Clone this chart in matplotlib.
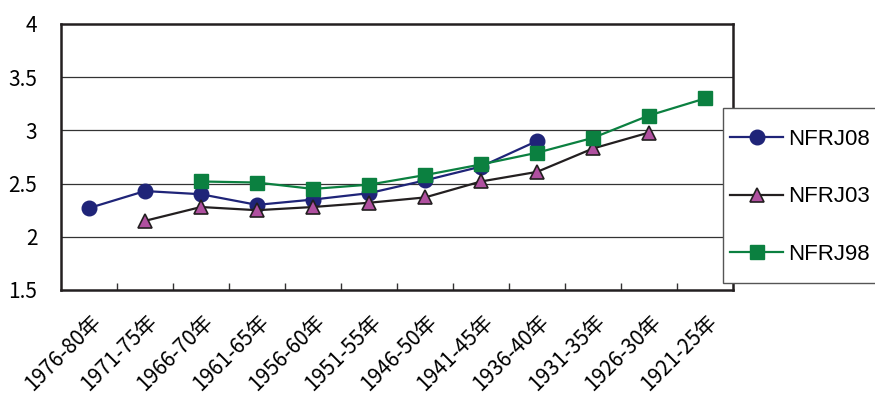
import matplotlib
matplotlib.use("Agg")
import matplotlib.pyplot as plt
import matplotlib.transforms as mtransforms
from matplotlib.patches import Rectangle
import numpy as np

plt.rcParams['font.family'] = ['Noto Sans CJK JP', 'DejaVu Sans']

# birth cohorts, newest first
cohorts = ["1976-80年", "1971-75年", "1966-70年", "1961-65年", "1956-60年",
           "1951-55年", "1946-50年", "1941-45年", "1936-40年", "1931-35年",
           "1926-30年", "1921-25年"]

# mean values per cohort for each survey wave (None = not surveyed)
nfrj08 = [2.27, 2.43, 2.40, 2.30, 2.35, 2.41, 2.53, 2.66, 2.90, None, None, None]
nfrj03 = [None, 2.15, 2.28, 2.25, 2.28, 2.32, 2.37, 2.52, 2.61, 2.83, 2.98, None]
nfrj98 = [None, None, 2.52, 2.51, 2.45, 2.49, 2.58, 2.68, 2.79, 2.93, 3.14, 3.30]


def to_arr(vals):
    return np.array([np.nan if v is None else v for v in vals], dtype=float)


fig = plt.figure(figsize=(8.75, 4.01), dpi=100)
ax = fig.add_axes([61 / 875, 1 - 290 / 401, 672 / 875, 266 / 401])

x = np.arange(len(cohorts))

ax.plot(x, to_arr(nfrj08), color="#1f2478", lw=1.6, marker="o", ms=10.5,
        mfc="#1f2478", mec="#1f2478", label="NFRJ08", zorder=3)
ax.plot(x, to_arr(nfrj03), color="#231f20", lw=1.6, marker="^", ms=10,
        mfc="#b050a0", mec="#231f20", mew=1.2, label="NFRJ03", zorder=4)
ax.plot(x, to_arr(nfrj98), color="#0b8040", lw=1.6, marker="s", ms=10,
        mfc="#0b8040", mec="#0b8040", label="NFRJ98", zorder=5)

ax.set_xlim(-0.5, len(cohorts) - 0.5)
ax.set_ylim(1.5, 4)
ax.set_yticks([1.5, 2, 2.5, 3, 3.5, 4])
ax.set_yticklabels(["1.5", "2", "2.5", "3", "3.5", "4"], fontsize=15)
ax.tick_params(axis="y", length=0, pad=17)
for yv in [2, 2.5, 3, 3.5]:
    ax.axhline(yv, color="#333333", lw=0.9, zorder=1)

# category boundary ticks pointing inward
ax.set_xticks(np.arange(0.5, len(cohorts) - 1, 1.0), minor=True)
ax.tick_params(axis="x", which="minor", direction="in", length=5, width=1,
               color="#333333")
ax.set_xticks(x)
ax.tick_params(axis="x", which="major", length=0, pad=15)
ax.set_xticklabels(cohorts, fontsize=15, rotation=45, ha="right",
                   rotation_mode="anchor")
offset = mtransforms.ScaledTranslation(1 / 100, 0, fig.dpi_scale_trans)
for lab in ax.get_xticklabels():
    lab.set_transform(lab.get_transform() + offset)

for side in ["left", "bottom", "top", "right"]:
    ax.spines[side].set_linewidth(1.8)
    ax.spines[side].set_color("#231f20")

# legend frame runs past the right edge of the figure
box = Rectangle((723 / 875, 1 - 283 / 401), 160 / 875, 175 / 401,
                transform=fig.transFigure, facecolor="white",
                edgecolor="#555555", lw=1.0, zorder=4)
fig.add_artist(box)

leg = fig.legend(loc="upper left", bbox_to_anchor=(730 / 875, 1 - 129 / 401),
                 prop={"family": ["Liberation Sans", "DejaVu Sans"], "size": 16},
                 frameon=False, handlelength=2.4, handletextpad=0.22,
                 labelspacing=1.64, borderpad=0, borderaxespad=0)
leg.set_zorder(5)

fig.savefig("out.png", dpi=100)
